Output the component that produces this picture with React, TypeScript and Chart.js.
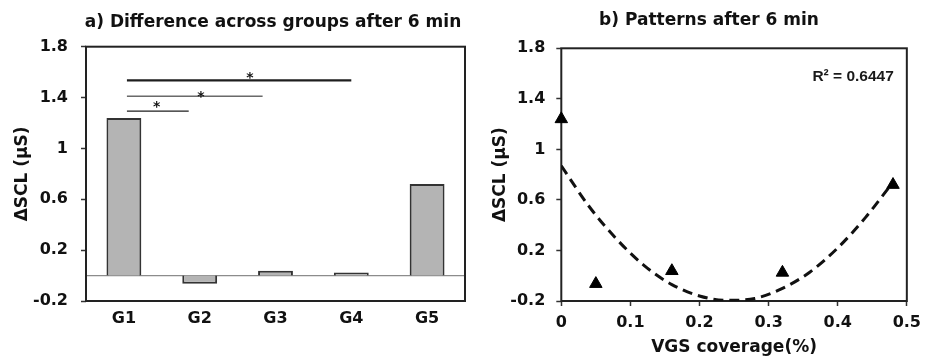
import React, { useEffect, useRef } from 'react';
import { Chart, registerables } from 'chart.js';

Chart.register(...registerables);

// ---------- data: panel a ----------
const groupLabels = ['G1', 'G2', 'G3', 'G4', 'G5'];
const groupValues = [1.24, -0.065, 0.038, 0.025, 0.72];
const valueTicks = [-0.2, 0.2, 0.6, 1, 1.4, 1.8];
// significance brackets (category units / value units)
const sigFrom = [0.04, 0.04, 0.04];
const sigTo = [0.855, 1.83, 3.0];
const sigLevel = [1.293, 1.411, 1.535];
const sigStarAt = [0.433, 1.017, 1.664];
const sigStarLevel = [1.354, 1.432, 1.584];
const sigMark = ['*', '*', '*'];

// ---------- data: panel b ----------
const coverage = [0, 0.05, 0.16, 0.32, 0.48];
const patternValues = [1.24, -0.064, 0.038, 0.025, 0.72];
const coverageTicks = [0, 0.1, 0.2, 0.3, 0.4, 0.5];
const trendCoverage = [0, 0.04, 0.08, 0.12, 0.16, 0.2, 0.24, 0.28, 0.32, 0.36, 0.4, 0.44, 0.48];
const trendValues = [0.87, 0.55, 0.29, 0.08, -0.07, -0.16, -0.195, -0.18, -0.1, 0.03, 0.22, 0.46, 0.74];
const rSquaredLabel = 'R² = 0.6447';

const titleA = 'a) Difference across groups after 6 min';
const titleB = 'b) Patterns after 6 min';
const yTitle = 'ΔSCL (μS)';
const xTitleB = 'VGS coverage(%)';

// ---------- styles ----------
const FAMILY = "'DejaVu Sans', sans-serif";
const textColor = '#111';
const tickFont = { family: FAMILY, size: 16, weight: 'bold' as const };
const axisTitleFont = { family: FAMILY, size: 17, weight: 'bold' as const };
const sigLineWidths = [1.4, 1, 2.2];
const fmt = (v: any) => String(parseFloat(Number(v).toFixed(1)));

const framePlugin = {
  id: 'frame',
  beforeDatasetsDraw(chart: any) {
    const { ctx, chartArea } = chart;
    const { left, top, right, bottom } = chartArea;
    ctx.save();
    ctx.strokeStyle = '#222';
    ctx.lineWidth = 2;
    ctx.strokeRect(left, top, right - left, bottom - top);
    ctx.restore();
  },
};

const zeroLinePlugin = {
  id: 'zeroLine',
  beforeDatasetsDraw(chart: any) {
    const { ctx, chartArea, scales } = chart;
    const y = scales.y.getPixelForValue(0);
    ctx.save();
    ctx.strokeStyle = '#8c8c8c';
    ctx.lineWidth = 1.2;
    ctx.beginPath();
    ctx.moveTo(chartArea.left, y);
    ctx.lineTo(chartArea.right, y);
    ctx.stroke();
    ctx.restore();
  },
};

const makeTitlePlugin = (text: string, x: number, y: number) => ({
  id: 'panelTitle',
  afterDraw(chart: any) {
    const { ctx } = chart;
    ctx.save();
    ctx.font = `bold 17px ${FAMILY}`;
    ctx.fillStyle = textColor;
    ctx.textAlign = 'center';
    ctx.textBaseline = 'alphabetic';
    ctx.fillText(text, x, y);
    ctx.restore();
  },
});

const sigPlugin = {
  id: 'sig',
  afterDatasetsDraw(chart: any) {
    const { ctx, scales } = chart;
    const xs = scales.x;
    const ys = scales.y;
    ctx.save();
    sigFrom.forEach((from, i) => {
      const y = ys.getPixelForValue(sigLevel[i]);
      ctx.strokeStyle = '#1e1e1e';
      ctx.lineWidth = sigLineWidths[i];
      ctx.beginPath();
      ctx.moveTo(xs.getPixelForValue(from), y);
      ctx.lineTo(xs.getPixelForValue(sigTo[i]), y);
      ctx.stroke();
      ctx.font = `bold 14px ${FAMILY}`;
      ctx.fillStyle = textColor;
      ctx.textAlign = 'center';
      ctx.textBaseline = 'alphabetic';
      ctx.fillText(sigMark[i], xs.getPixelForValue(sigStarAt[i]), ys.getPixelForValue(sigStarLevel[i]) + 7.5);
    });
    ctx.restore();
  },
};

const rSquaredPlugin = {
  id: 'rsq',
  afterDraw(chart: any) {
    const { ctx, chartArea } = chart;
    ctx.save();
    ctx.font = `bold 15.5px 'Liberation Sans', Arial, sans-serif`;
    ctx.fillStyle = '#1a1a1a';
    ctx.textAlign = 'right';
    ctx.textBaseline = 'alphabetic';
    ctx.fillText(rSquaredLabel, chartArea.right - 13, chartArea.top + 33);
    ctx.restore();
  },
};

export default function App() {
  const leftRef = useRef<HTMLCanvasElement>(null);
  const rightRef = useRef<HTMLCanvasElement>(null);

  useEffect(() => {
    const left = new Chart(leftRef.current as HTMLCanvasElement, {
      type: 'bar',
      data: {
        labels: groupLabels,
        datasets: [
          {
            data: groupValues,
            backgroundColor: '#b4b4b4',
            borderColor: '#333',
            borderWidth: 2,
            barPercentage: 0.46,
            categoryPercentage: 1,
          },
        ],
      },
      options: {
        responsive: false,
        animation: false,
        layout: { padding: { top: 46.7, right: 7, left: 0, bottom: 0 } },
        plugins: { legend: { display: false }, tooltip: { enabled: false }, title: { display: false } },
        scales: {
          x: {
            grid: { display: false, drawTicks: false },
            border: { display: false },
            ticks: { font: tickFont, color: textColor, padding: 8, maxRotation: 0 },
            afterFit: (s: any) => {
              s.height = 61;
            },
          },
          y: {
            min: -0.2,
            max: 1.8,
            afterBuildTicks: (s: any) => {
              s.ticks = valueTicks.map((v) => ({ value: v }));
            },
            ticks: { font: tickFont, color: textColor, padding: 13, callback: (v: any) => fmt(v) },
            grid: { drawOnChartArea: false, tickLength: 5, tickColor: '#333', tickWidth: 1.5 },
            border: { display: false },
            title: { display: true, text: yTitle, font: axisTitleFont, color: textColor, padding: { top: 12.8, bottom: 0 } },
            afterFit: (s: any) => {
              s.width = 86;
            },
          },
        },
      } as any,
      plugins: [zeroLinePlugin, framePlugin, sigPlugin, makeTitlePlugin(titleA, 273, 27)],
    });

    const right = new Chart(rightRef.current as HTMLCanvasElement, {
      type: 'scatter',
      data: {
        datasets: [
          {
            type: 'line',
            data: trendCoverage.map((x, i) => ({ x, y: trendValues[i] })),
            borderColor: '#111',
            borderWidth: 3,
            borderDash: [10, 6],
            pointRadius: 0,
            cubicInterpolationMode: 'monotone',
            fill: false,
            order: 2,
          } as any,
          {
            data: coverage.map((x, i) => ({ x, y: patternValues[i] })),
            pointStyle: 'triangle',
            pointRadius: 7.2,
            borderWidth: 1,
            backgroundColor: '#000',
            borderColor: '#000',
            clip: false,
            order: 1,
          } as any,
        ],
      },
      options: {
        responsive: false,
        animation: false,
        layout: { padding: { top: 48.3, right: 17.3, left: 0, bottom: 0 } },
        plugins: { legend: { display: false }, tooltip: { enabled: false }, title: { display: false } },
        scales: {
          x: {
            type: 'linear',
            min: 0,
            max: 0.5,
            afterBuildTicks: (s: any) => {
              s.ticks = coverageTicks.map((v) => ({ value: v }));
            },
            ticks: { font: tickFont, color: textColor, padding: 7, maxRotation: 0, callback: (v: any) => fmt(v) },
            grid: { drawOnChartArea: false, tickLength: 5, tickColor: '#333', tickWidth: 1.5 },
            border: { display: false },
            title: { display: true, text: xTitleB, font: axisTitleFont, color: textColor, padding: { top: 0, bottom: 4.2 } },
            afterFit: (s: any) => {
              s.height = 61;
            },
          },
          y: {
            min: -0.2,
            max: 1.8,
            afterBuildTicks: (s: any) => {
              s.ticks = valueTicks.map((v) => ({ value: v }));
            },
            ticks: { font: tickFont, color: textColor, padding: 11, callback: (v: any) => fmt(v) },
            grid: { drawOnChartArea: false, tickLength: 5, tickColor: '#333', tickWidth: 1.5 },
            border: { display: false },
            title: { display: true, text: yTitle, font: axisTitleFont, color: textColor, padding: { top: 18.5, bottom: 0 } },
            afterFit: (s: any) => {
              s.width = 89.3;
            },
          },
        },
      } as any,
      plugins: [framePlugin, rSquaredPlugin, makeTitlePlugin(titleB, 709 - 472, 25)],
    });

    return () => {
      left.destroy();
      right.destroy();
    };
  }, []);

  return (
    <div style={{ position: 'absolute', left: 0, top: 0, width: 928, height: 362, background: '#fff' }}>
      <div style={{ position: 'absolute', left: 0, top: 0, width: 472, height: 362 }}>
        <canvas ref={leftRef} width={472} height={362} />
      </div>
      <div style={{ position: 'absolute', left: 472, top: 0, width: 456, height: 362 }}>
        <canvas ref={rightRef} width={456} height={362} />
      </div>
    </div>
  );
}
